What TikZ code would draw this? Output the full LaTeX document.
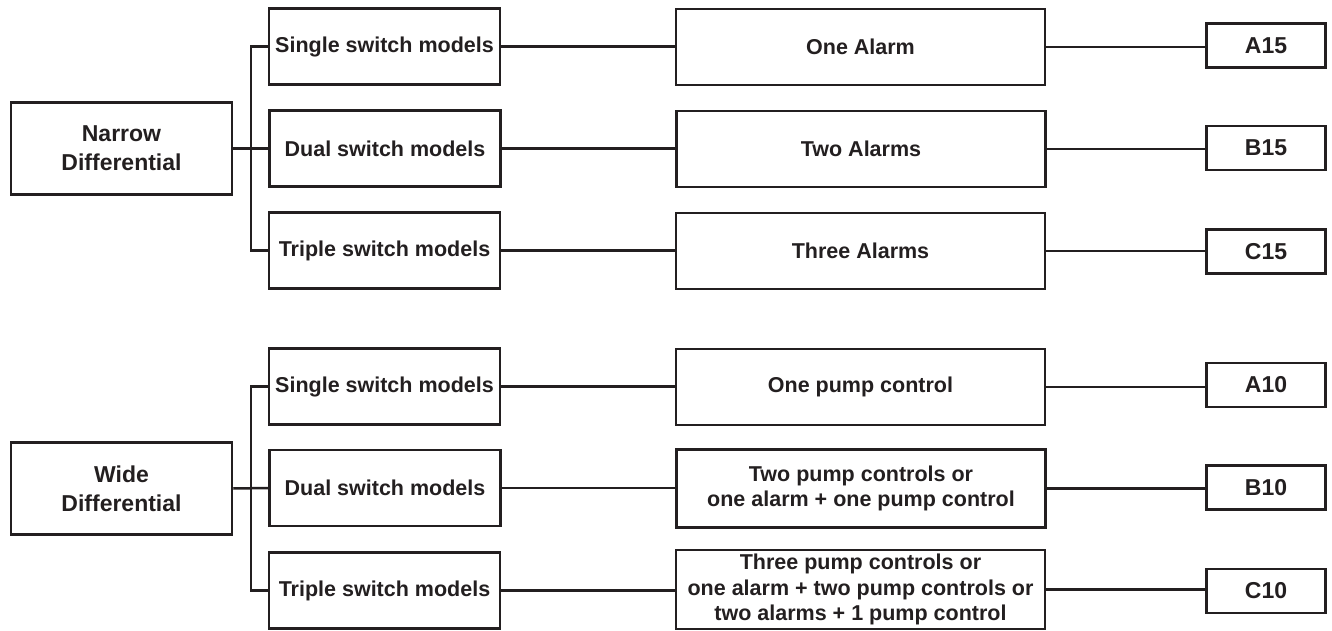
\documentclass[tikz,border=0pt]{standalone}
\usepackage{fontspec}
\setmainfont{Liberation Sans}
\definecolor{ink}{HTML}{231F20}
\begin{document}
\begin{tikzpicture}[x=1pt,y=-1pt,
  every node/.style={font=\bfseries\fontsize{21.5}{25.5}\selectfont, text=ink},
  box/.style={draw=ink, line width=2.5pt, rectangle, inner sep=0pt, align=center},
  rootbox/.style={box, minimum width=221pt, minimum height=92pt, font=\bfseries\fontsize{23}{29}\selectfont},
  swbox/.style={box, minimum width=231pt, minimum height=76pt},
  midbox/.style={box, minimum width=369pt, minimum height=76pt},
  codebox/.style={box, minimum width=119pt, minimum height=44pt, font=\bfseries\fontsize{23}{27}\selectfont},
  conn/.style={draw=ink, line width=2.5pt}]
\useasboundingbox (0,0) rectangle (1332,631);
% top group
\node[rootbox] (nd) at (121.5,148.5) {Narrow\\Differential};
\node[swbox] (s1) at (384.5,46.5) {Single switch models};
\node[swbox] (s2) at (385,148.5) {Dual switch models};
\node[swbox] (s3) at (384.5,250.5) {Triple switch models};
\node[midbox] (m1) at (860.5,47) {One Alarm};
\node[midbox] (m2) at (861,149) {Two Alarms};
\node[midbox] (m3) at (860.5,251) {Three Alarms};
\node[codebox] (c1) at (1266,45.5) {A15};
\node[codebox] (c2) at (1266,148) {B15};
\node[codebox] (c3) at (1266,251.5) {C15};
% bottom group
\node[rootbox] (wd) at (121.5,488.5) {Wide\\Differential};
\node[swbox] (t1) at (384.5,386.5) {Single switch models};
\node[swbox] (t2) at (385,488) {Dual switch models};
\node[swbox] (t3) at (384.5,590.5) {Triple switch models};
\node[midbox] (n1) at (860.5,387) {One pump control};
\node[midbox, minimum height=78pt] (n2) at (861,488.5) {Two pump controls or\\one alarm + one pump control};
\node[midbox, minimum height=79pt] (n3) at (860.5,589.5) {Three pump controls or\\one alarm + two pump controls or\\two alarms + 1 pump control};
\node[codebox] (d1) at (1266,385) {A10};
\node[codebox] (d2) at (1266,487.5) {B10};
\node[codebox] (d3) at (1266,591) {C10};
% connectors top
\draw[conn] (nd.east) -- (s2.west);
\draw[conn] (s1.west) -- ++(-17,0) |- (s3.west);
\draw[conn] (s1.east) -- (s1.east -| m1.west);
\draw[conn] (s2.east) -- (s2.east -| m2.west);
\draw[conn] (s3.east) -- (s3.east -| m3.west);
\draw[conn] (m1.east) -- (m1.east -| c1.west);
\draw[conn] (m2.east) -- (m2.east -| c2.west);
\draw[conn] (m3.east) -- (m3.east -| c3.west);
% connectors bottom
\draw[conn] (wd.east) -- (t2.west);
\draw[conn] (t1.west) -- ++(-17,0) |- (t3.west);
\draw[conn] (t1.east) -- (t1.east -| n1.west);
\draw[conn] (t2.east) -- (t2.east -| n2.west);
\draw[conn] (t3.east) -- (t3.east -| n3.west);
\draw[conn] (n1.east) -- (n1.east -| d1.west);
\draw[conn] (n2.east) -- (n2.east -| d2.west);
\draw[conn] (n3.east) -- (n3.east -| d3.west);
\end{tikzpicture}
\end{document}
